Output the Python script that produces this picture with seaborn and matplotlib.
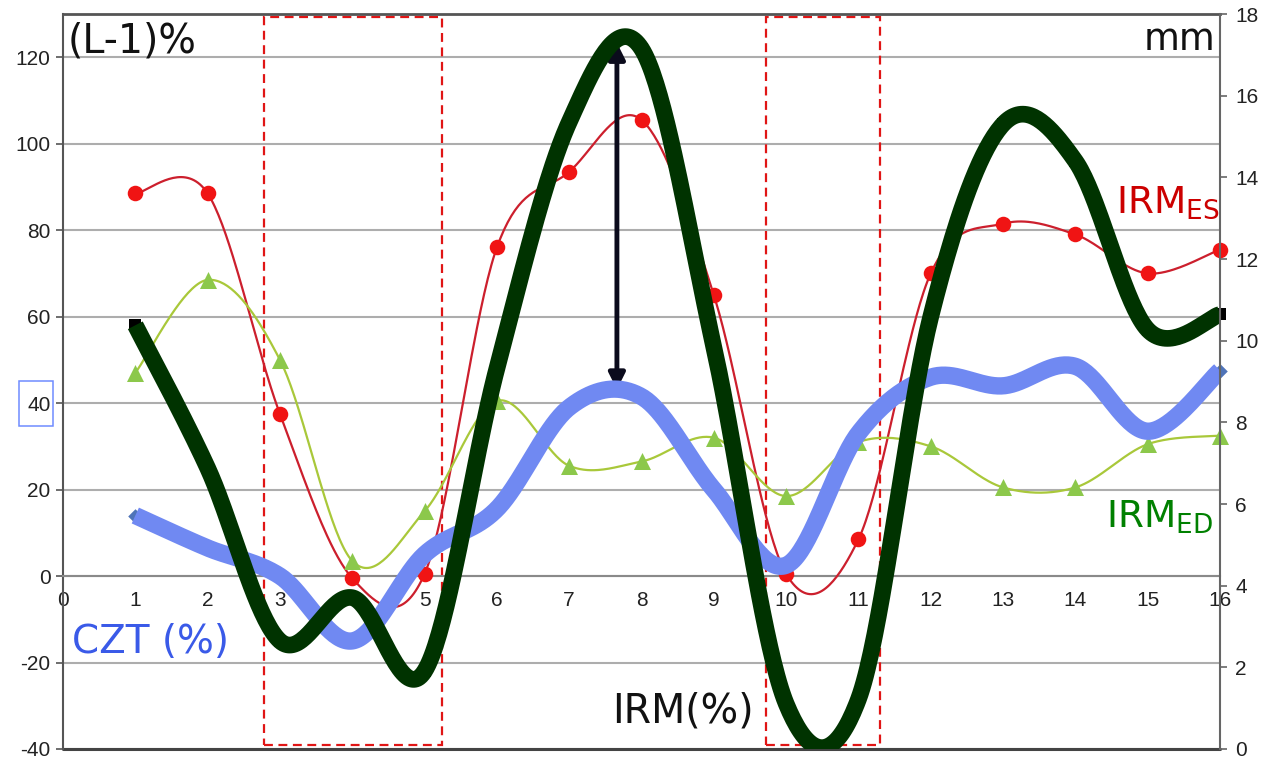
import numpy as np
import pandas as pd
import matplotlib
matplotlib.use("Agg")
import matplotlib.pyplot as plt
import seaborn as sns
from matplotlib.patches import Rectangle, FancyArrowPatch

# ---- data -------------------------------------------------------------
positions = list(range(1, 17))
irm_es = [88.5, 88.5, 37.5, -0.5, 0.5, 76, 93.5, 105.5, 65, 0.5, 8.5, 70, 81.5, 79, 70, 75.5]
irm_ed = [47, 68.5, 50, 3.5, 15, 40.5, 25.5, 26.5, 32, 18.5, 31, 30, 20.5, 20.5, 30.5, 32.5]
czt = [14, 6.5, 0, -15, 5, 15.5, 39, 41.5, 20, 2.5, 33, 46, 44, 48.5, 33.5, 47.5]
irm = [58, 25, -15, -5, -22, 48, 105, 122, 53, -29.5, -28.5, 60, 104.5, 96, 57, 60.5]

left_ticks = list(range(-40, 121, 20))
right_ticks = list(range(0, 19, 2))
x_ticks = list(range(0, 17))

# highlighted windows (x from, x to) and the arrow span
windows = [(2.78, 5.24), (9.72, 11.3)]
arrow_x, arrow_from, arrow_to = 7.66, 42.5, 124.0

W, H = 1268, 758


def smooth(xs, ys, n=40):
    """Smoothed polyline through the points (Bezier / Catmull-Rom style)."""
    xs = np.asarray(xs, float)
    ys = np.asarray(ys, float)
    px = np.concatenate([[xs[0]], xs, [xs[-1]]])
    py = np.concatenate([[ys[0]], ys, [ys[-1]]])
    ox, oy = [], []
    t = np.linspace(0, 1, n, endpoint=False)
    for i in range(1, len(px) - 2):
        p0 = np.array([px[i - 1], py[i - 1]])
        p1 = np.array([px[i], py[i]])
        p2 = np.array([px[i + 1], py[i + 1]])
        p3 = np.array([px[i + 2], py[i + 2]])
        c1 = p1 + (p2 - p0) / 6.0
        c2 = p2 - (p3 - p1) / 6.0
        b = ((1 - t) ** 3)[:, None] * p1 + (3 * (1 - t) ** 2 * t)[:, None] * c1 \
            + (3 * (1 - t) * t ** 2)[:, None] * c2 + (t ** 3)[:, None] * p2
        ox.extend(b[:, 0])
        oy.extend(b[:, 1])
    ox.append(xs[-1])
    oy.append(ys[-1])
    return pd.DataFrame({"x": ox, "y": oy})


sns.set_theme(style="white")
plt.rcParams["font.family"] = ["DejaVu Sans"]
plt.rcParams["mathtext.default"] = "regular"

fig = plt.figure(figsize=(W / 100, H / 100), dpi=100)
ax = fig.add_axes([63 / W, 9 / H, (1220 - 63) / W, (749 - 14) / H])
ax2 = ax.twinx()

# dashed highlight windows
for x0, x1 in windows:
    ax.add_patch(Rectangle((x0, -39), x1 - x0, 168.2, fill=False,
                           edgecolor="#e01515", linewidth=1.6,
                           linestyle=(0, (4, 2.5)), zorder=2, clip_on=False))

# IRM ES: thin red smoothed line with circles
es = smooth(positions, irm_es)
sns.lineplot(data=es, x="x", y="y", sort=False, estimator=None, ax=ax,
             color="#cc1f2d", linewidth=1.6, zorder=3)
sns.scatterplot(x=positions, y=irm_es, ax=ax, color="#f01414", s=125,
                marker="o", linewidth=0, zorder=4, clip_on=False)

# IRM ED: thin yellow-green smoothed line with triangles
ed = smooth(positions, irm_ed)
sns.lineplot(data=ed, x="x", y="y", sort=False, estimator=None, ax=ax,
             color="#a9c83a", linewidth=1.6, zorder=3)
sns.scatterplot(x=positions, y=irm_ed, ax=ax, color="#8cc84b", s=150,
                marker="^", linewidth=0, zorder=4, clip_on=False)

# point markers of CZT and IRM
sns.scatterplot(x=positions, y=czt, ax=ax, color="#4f74b8", s=55,
                marker="D", linewidth=0, zorder=4, clip_on=False)
sns.scatterplot(x=positions, y=irm, ax=ax, color="#000000", s=85,
                marker="s", linewidth=0, zorder=4, clip_on=False)

# double-headed arrow
ax.add_patch(FancyArrowPatch((arrow_x, arrow_from), (arrow_x, arrow_to),
                             arrowstyle="<|-|>", mutation_scale=24,
                             color="#0b0b1c", linewidth=3.5, zorder=5))

# thick smoothed curves
cz = smooth(positions, czt)
sns.lineplot(data=cz, x="x", y="y", sort=False, estimator=None, ax=ax,
             color="#7089f2", linewidth=12.5, zorder=6,
             solid_capstyle="butt", solid_joinstyle="round")
ir = smooth(positions, irm)
sns.lineplot(data=ir, x="x", y="y", sort=False, estimator=None, ax=ax,
             color="#003300", linewidth=12, zorder=7,
             solid_capstyle="butt", solid_joinstyle="round")

if ax.get_legend() is not None:
    ax.get_legend().remove()

# axes, grid and frame
ax.set_xlim(0, 16)
ax.set_ylim(-40, 130)
ax2.set_ylim(0, 18)
ax.set_yticks(left_ticks)
ax.set_xticks(x_ticks)
ax2.set_yticks(right_ticks)
ax.yaxis.grid(True, color="#adadad", linewidth=1.5)
ax.xaxis.grid(False)
ax.set_axisbelow(True)
ax.axhline(-40, color="#444444", linewidth=2.2, zorder=1, clip_on=False)

ax.spines["bottom"].set_position(("data", 0))
ax.spines["bottom"].set_color("#8a8a8a")
ax.spines["bottom"].set_linewidth(1.5)
ax.spines["left"].set_color("#555555")
ax.spines["left"].set_linewidth(1.5)
ax.spines["top"].set_color("#555555")
ax.spines["top"].set_linewidth(2)
ax.spines["right"].set_visible(False)
for side in ("left", "top", "bottom"):
    ax2.spines[side].set_visible(False)
ax2.spines["right"].set_color("#666666")
ax2.spines["right"].set_linewidth(1.5)

tick_font = dict(family="Liberation Sans", size=15)
ax.tick_params(axis="y", direction="out", length=5, width=1.2, pad=4,
               colors="#555555", labelcolor="#222222")
ax.tick_params(axis="x", direction="out", length=4, width=1.2, pad=7,
               colors="#777777", labelcolor="#222222")
ax2.tick_params(axis="y", direction="out", length=5, width=1.2, pad=6,
                colors="#666666", labelcolor="#222222")
ax.set_yticklabels([str(v) for v in left_ticks], fontdict=tick_font)
ax.set_xticklabels([str(v) for v in x_ticks], fontdict=tick_font)
ax2.set_yticklabels([str(v) for v in right_ticks], fontdict=tick_font)
ax.set_xlabel("")
ax.set_ylabel("")
ax2.set_ylabel("")


def fx(x):
    return x / W


def fy(y):
    return 1 - y / H


fig.text(fx(68), fy(52), "(L-1)%", fontsize=28.5, color="#111111",
         ha="left", va="baseline")
fig.text(fx(1215), fy(50), "mm", fontsize=26.5, color="#111111",
         ha="right", va="baseline")
fig.text(fx(1116), fy(213), r"IRM$_{ES}$", fontsize=27, color="#cc0000",
         ha="left", va="baseline")
fig.text(fx(1106), fy(528), r"IRM$_{ED}$", fontsize=27, color="#008000",
         ha="left", va="baseline")
fig.text(fx(72), fy(653), "CZT (%)", fontsize=28, color="#3a5ae8",
         ha="left", va="baseline")
fig.text(fx(612), fy(722), "IRM(%)", fontsize=28.5, color="#111111",
         ha="left", va="baseline")

# outline around the 40 label
fig.patches.append(Rectangle((fx(19), fy(426)), (53 - 19) / W, (426 - 381) / H,
                             transform=fig.transFigure, fill=False,
                             edgecolor="#6f8cff", linewidth=1.1))

fig.savefig("out.png", dpi=100)
